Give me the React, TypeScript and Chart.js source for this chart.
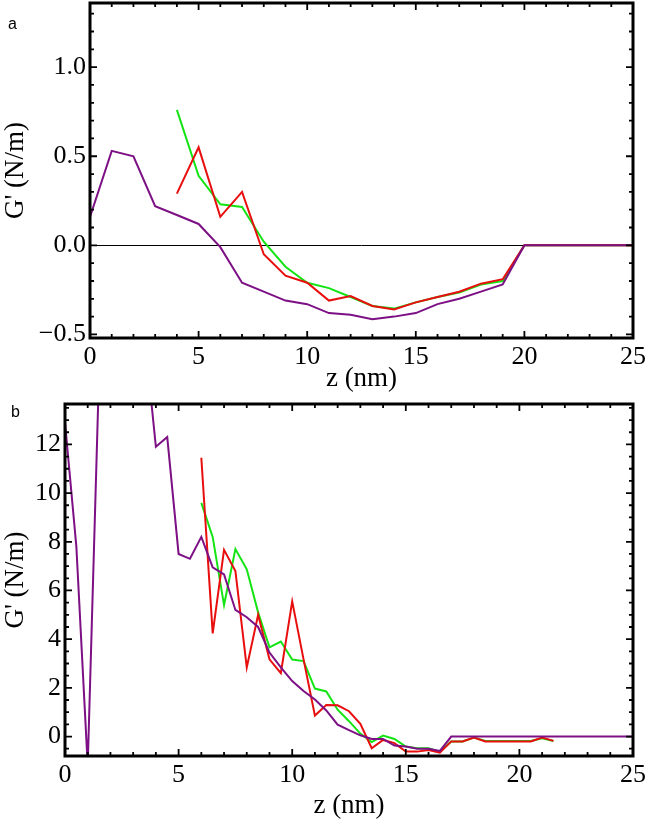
import React, { useEffect, useRef } from 'react';
import { Chart, registerables } from 'chart.js';

Chart.register(...registerables);

const SERIF = '"Liberation Serif", "Times New Roman", serif';
const GREEN = 'rgb(20, 228, 20)';
const RED = 'rgb(232, 14, 14)';
const PURPLE = 'rgb(124, 16, 132)';

// panel a: z (nm) in steps of 1
const zA = [0, 1, 2, 3, 4, 5, 6, 7, 8, 9, 10, 11, 12, 13, 14, 15, 16, 17, 18, 19, 20, 21, 22, 23, 24, 25];
const purpleA = [0.16, 0.53, 0.5, 0.22, 0.17, 0.12, -0.01, -0.21, -0.26, -0.31, -0.33, -0.38, -0.39, -0.415, -0.4, -0.38, -0.33, -0.3, -0.26, -0.22, 0, 0, 0, 0, 0, 0];
const greenA = [null, null, null, null, 0.76, 0.39, 0.23, 0.215, 0.02, -0.12, -0.21, -0.24, -0.29, -0.34, -0.355, -0.32, -0.29, -0.265, -0.22, -0.2, 0, 0, 0, 0, 0, 0];
const redA = [null, null, null, null, 0.29, 0.55, 0.16, 0.3, -0.05, -0.17, -0.21, -0.31, -0.285, -0.34, -0.36, -0.32, -0.29, -0.26, -0.215, -0.19, 0, 0, 0, 0, 0, 0];

// panel b: z (nm) in steps of 0.5
const zB = [0, 0.5, 1, 1.5, 2, 2.5, 3, 3.5, 4, 4.5, 5, 5.5, 6, 6.5, 7, 7.5, 8, 8.5, 9, 9.5, 10, 10.5, 11, 11.5, 12, 12.5, 13, 13.5, 14, 14.5, 15, 15.5, 16, 16.5, 17, 17.5, 18, 18.5, 19, 19.5, 20, 20.5, 21, 21.5, 22, 22.5, 23, 23.5, 24, 24.5, 25];
const purpleB = [12.9, 7.8, -1.2, 15.0, 18, 19, 18, 16.5, 11.9, 12.3, 7.5, 7.3, 8.2, 6.95, 6.66, 5.2, 4.9, 4.5, 3.45, 2.84, 2.28, 1.87, 1.52, 1.07, 0.49, 0.26, 0.05, -0.1, -0.1, -0.37, -0.41, -0.5, -0.5, -0.59, 0, 0, 0, 0, 0, 0, 0, 0, 0, 0, 0, 0, 0, 0, 0, 0, 0];
const greenB = [null, null, null, null, null, null, null, null, null, null, null, null, 9.6, 8.2, 5.4, 7.7, 6.87, 5.1, 3.66, 3.9, 3.16, 3.1, 1.97, 1.85, 1.1, 0.63, 0.12, -0.23, 0.04, -0.1, -0.41, -0.48, -0.48, -0.62, -0.2, -0.2, -0.04, -0.18, -0.18, -0.18, -0.18, -0.18, -0.07, -0.18, null, null, null, null, null, null, null];
const redB = [null, null, null, null, null, null, null, null, null, null, null, null, 11.45, 4.24, 7.67, 6.8, 2.84, 5.0, 3.17, 2.6, 5.55, 3.17, 0.86, 1.29, 1.28, 1.04, 0.52, -0.48, -0.14, -0.27, -0.62, -0.62, -0.55, -0.66, -0.2, -0.2, -0.04, -0.2, -0.2, -0.2, -0.2, -0.2, -0.04, -0.18, null, null, null, null, null, null, null];

const pts = (xs: number[], ys: (number | null)[]) => xs.map((x, i) => ({ x, y: ys[i] }));

// frame, inward ticks and zero line (Mathematica style)
const framePlugin = {
  id: 'frame',
  beforeDatasetsDraw(chart: any, _args: any, opts: any) {
    if (!opts.zeroLine) return;
    const { ctx, chartArea: a, scales } = chart;
    const py = Math.round(scales.y.getPixelForValue(0)) + 0.5;
    ctx.save();
    ctx.strokeStyle = '#000';
    ctx.lineWidth = 1;
    ctx.beginPath();
    ctx.moveTo(a.left, py);
    ctx.lineTo(a.right, py);
    ctx.stroke();
    ctx.restore();
  },
  afterDatasetsDraw(chart: any, _args: any, opts: any) {
    const { ctx, chartArea: a, scales } = chart;
    ctx.save();
    ctx.strokeStyle = '#000';
    ctx.lineWidth = 1.8;
    const marks = (scale: any, step: number, every: number, cb: (p: number, len: number) => void) => {
      const i0 = Math.ceil(scale.min / step - 1e-9);
      const i1 = Math.floor(scale.max / step + 1e-9);
      for (let i = i0; i <= i1; i++) {
        cb(scale.getPixelForValue(i * step), Math.abs(i) % every === 0 ? 7 : 4);
      }
    };
    ctx.beginPath();
    marks(scales.x, opts.xStep, opts.xEvery, (p, len) => {
      ctx.moveTo(p, a.bottom); ctx.lineTo(p, a.bottom - len);
      ctx.moveTo(p, a.top); ctx.lineTo(p, a.top + len);
    });
    marks(scales.y, opts.yStep, opts.yEvery, (p, len) => {
      ctx.moveTo(a.left, p); ctx.lineTo(a.left + len, p);
      ctx.moveTo(a.right, p); ctx.lineTo(a.right - len, p);
    });
    ctx.stroke();
    ctx.lineWidth = 3;
    ctx.strokeRect(a.left, a.top, a.right - a.left, a.bottom - a.top);
    ctx.restore();
  },
};

type PanelSpec = {
  height: number;
  padTop: number;
  xHeight: number;
  yWidth: number;
  yMin: number;
  yMax: number;
  yStepLabel: number;
  yStep: number;
  yEvery: number;
  zeroLine: boolean;
  xTitlePad: number;
  yFmt: (v: number) => string;
  z: number[];
  purple: (number | null)[];
  green: (number | null)[];
  red: (number | null)[];
};

const line = (data: any, color: string) => ({
  data,
  borderColor: color,
  borderWidth: 2,
  pointRadius: 0,
  tension: 0,
  fill: false,
  spanGaps: false,
});

function buildConfig(p: PanelSpec): any {
  return {
    type: 'line',
    data: {
      datasets: [
        line(pts(p.z, p.purple), PURPLE),
        line(pts(p.z, p.red), RED),
        line(pts(p.z, p.green), GREEN),
      ],
    },
    options: {
      animation: false,
      responsive: true,
      maintainAspectRatio: false,
      layout: { padding: { top: p.padTop, right: 17, bottom: 0, left: 0 } },
      plugins: {
        legend: { display: false },
        tooltip: { enabled: false },
        frame: { zeroLine: p.zeroLine, xStep: 1, xEvery: 5, yStep: p.yStep, yEvery: p.yEvery },
      },
      scales: {
        x: {
          type: 'linear',
          min: 0,
          max: 25,
          afterFit: (s: any) => {
            s.height = p.xHeight;
            s.paddingLeft = 0;
            s.paddingRight = 0;
          },
          grid: { display: false, drawTicks: false },
          border: { display: false },
          ticks: {
            stepSize: 5,
            autoSkip: false,
            maxRotation: 0,
            includeBounds: false,
            padding: 4,
            color: '#000',
            font: { family: SERIF, size: 26 },
          },
          title: {
            display: true,
            text: 'z (nm)',
            color: '#000',
            font: { family: SERIF, size: 27 },
            padding: { top: 0, bottom: p.xTitlePad },
          },
        },
        y: {
          type: 'linear',
          min: p.yMin,
          max: p.yMax,
          afterFit: (s: any) => {
            s.width = p.yWidth;
            s.paddingTop = 0;
            s.paddingBottom = 0;
          },
          grid: { display: false, drawTicks: false },
          border: { display: false },
          ticks: {
            stepSize: p.yStepLabel,
            autoSkip: false,
            includeBounds: false,
            padding: 4,
            color: '#000',
            font: { family: SERIF, size: 26 },
            callback: (v: any) => p.yFmt(Number(v)),
          },
          title: {
            display: true,
            text: "G' (N/m)",
            color: '#000',
            font: { family: SERIF, size: 27 },
            padding: { top: 0, bottom: 0 },
          },
        },
      },
    },
    plugins: [framePlugin],
  };
}

const panelA: PanelSpec = {
  height: 395,
  padTop: 3,
  xHeight: 57,
  yWidth: 90,
  yMin: -0.52,
  yMax: 1.36,
  yStepLabel: 0.5,
  yStep: 0.1,
  yEvery: 5,
  zeroLine: true,
  xTitlePad: 0,
  yFmt: (v) => (Math.abs(v) < 1e-9 ? 0 : v).toFixed(1).replace('-', '\u2212'),
  z: zA,
  purple: purpleA,
  green: greenA,
  red: redA,
};

const panelB: PanelSpec = {
  height: 425,
  padTop: 9,
  xHeight: 64,
  yWidth: 65,
  yMin: -0.8,
  yMax: 13.66,
  yStepLabel: 2,
  yStep: 0.5,
  yEvery: 4,
  zeroLine: false,
  xTitlePad: -2,
  yFmt: (v) => String(Math.round(v)),
  z: zB,
  purple: purpleB,
  green: greenB,
  red: redB,
};

const Panel: React.FC<{ spec: PanelSpec; letter: string; letterLeft: number; letterTop: number }> = ({
  spec,
  letter,
  letterLeft,
  letterTop,
}) => {
  const canvasRef = useRef<HTMLCanvasElement>(null);

  useEffect(() => {
    if (!canvasRef.current) return;
    const chart = new Chart(canvasRef.current, buildConfig(spec));
    return () => chart.destroy();
  }, [spec]);

  return (
    <div style={{ position: 'relative', width: 650, height: spec.height }}>
      <canvas ref={canvasRef}></canvas>
      <div
        style={{
          position: 'absolute',
          left: letterLeft,
          top: letterTop,
          fontFamily: '"Liberation Sans", Arial, sans-serif',
          fontSize: 16,
          lineHeight: '16px',
          color: '#000',
        }}
      >
        {letter}
      </div>
    </div>
  );
};

export default function App() {
  return (
    <div style={{ position: 'absolute', left: 0, top: 0, width: 650, height: 820, background: '#fff' }}>
      <Panel spec={panelA} letter="a" letterLeft={8} letterTop={16} />
      <Panel spec={panelB} letter="b" letterLeft={11} letterTop={9} />
    </div>
  );
}
